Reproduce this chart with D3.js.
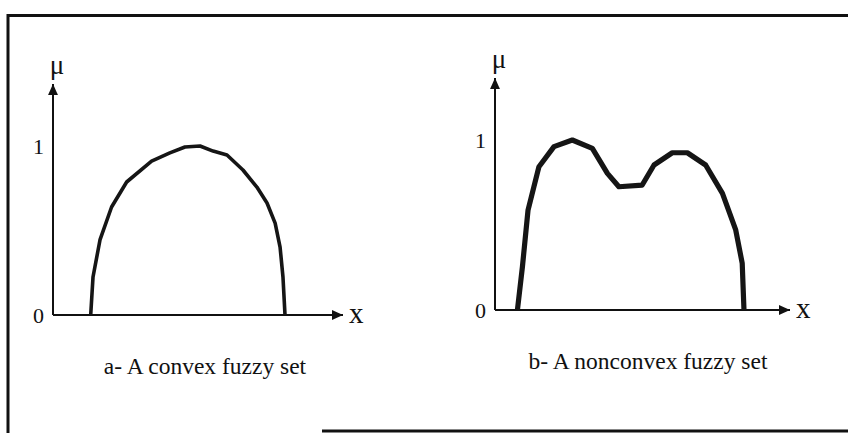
<!DOCTYPE html>
<html>
<head>
<meta charset="utf-8">
<script src="https://cdn.jsdelivr.net/npm/d3@7"></script>
<style>
  html, body { margin: 0; padding: 0; background: #fff; }
  svg { display: block; }
</style>
</head>
<body>
<svg id="chart" width="848" height="433"></svg>
<script>
// Membership functions (x in arbitrary units 0–10, mu in [0, 1])
const convexX  = [1.30, 1.38, 1.62, 2.02, 2.54, 3.40, 4.03, 4.55, 5.07, 5.52, 6.00, 6.55, 7.03, 7.38, 7.66, 7.83, 7.93, 8.00];
const convexMu = [0.00, 0.225, 0.444, 0.639, 0.787, 0.911, 0.959, 0.994, 1.00, 0.970, 0.947, 0.858, 0.757, 0.663, 0.544, 0.402, 0.225, 0.00];

const nonconvexX  = [0.76, 0.93, 1.12, 1.49, 2.00, 2.62, 3.30, 3.81, 4.20, 4.99, 5.39, 6.01, 6.52, 7.14, 7.71, 8.16, 8.38, 8.44];
const nonconvexMu = [0.00, 0.255, 0.588, 0.843, 0.961, 1.00, 0.951, 0.804, 0.725, 0.735, 0.853, 0.925, 0.925, 0.853, 0.686, 0.471, 0.275, 0.00];

const tickValues = [0, 1];
const tickLabels = ["0", "1"];
const captions = ["a- A convex fuzzy set", "b- A nonconvex fuzzy set"];

const FONT = "'Liberation Serif', 'Times New Roman', 'DejaVu Serif', serif";
const svg = d3.select("#chart");

// Page frame
const frame = svg.append("g").attr("stroke", "#111").attr("fill", "none");
frame.append("line").attr("x1", 7).attr("x2", 848).attr("y1", 15.5).attr("y2", 15.5).attr("stroke-width", 3);
frame.append("line").attr("x1", 8).attr("x2", 8).attr("y1", 14).attr("y2", 433).attr("stroke-width", 3);
frame.append("line").attr("x1", 322).attr("x2", 848).attr("y1", 431).attr("y2", 431).attr("stroke-width", 3);

const defs = svg.append("defs");
defs.append("marker")
  .attr("id", "arrow")
  .attr("viewBox", "0 0 10 10")
  .attr("refX", 10).attr("refY", 5)
  .attr("markerUnits", "userSpaceOnUse")
  .attr("markerWidth", 11).attr("markerHeight", 11)
  .attr("orient", "auto")
  .append("path").attr("d", "M0,0.5 L10,5 L0,9.5 Z").attr("fill", "#111");

const panels = [
  { xs: convexX, mus: convexMu, x0: 53, x1: 343, y0: 315, y1: 146, yTop: 84,
    width: 3.6, caption: captions[0], capX: 205, capY: 374 },
  { xs: nonconvexX, mus: nonconvexMu, x0: 495, x1: 790, y0: 310, y1: 140, yTop: 78,
    width: 5.2, caption: captions[1], capX: 648, capY: 369 }
];

panels.forEach(p => {
  const x = d3.scaleLinear().domain([0, 10]).range([p.x0, p.x1]);
  const y = d3.scaleLinear().domain([0, 1]).range([p.y0, p.y1]);
  const g = svg.append("g")
    .attr("font-family", FONT)
    .attr("fill", "#111");

  // Axes with arrowheads
  g.append("line")
    .attr("x1", x(0)).attr("y1", y(0)).attr("x2", x(10)).attr("y2", y(0))
    .attr("stroke", "#111").attr("stroke-width", 2).attr("marker-end", "url(#arrow)");
  g.append("line")
    .attr("x1", x(0)).attr("y1", y(0)).attr("x2", x(0)).attr("y2", p.yTop)
    .attr("stroke", "#111").attr("stroke-width", 2).attr("marker-end", "url(#arrow)");

  // Tick labels on the membership axis
  g.selectAll("text.tick")
    .data(tickValues)
    .join("text")
    .attr("class", "tick")
    .attr("x", x(0) - 9)
    .attr("y", d => y(d))
    .attr("dy", "0.35em")
    .attr("text-anchor", "end")
    .attr("font-size", 22)
    .text((d, i) => tickLabels[i]);

  // Axis names
  g.append("text")
    .attr("x", x(0) + 4).attr("y", p.yTop - 10)
    .attr("text-anchor", "middle")
    .attr("font-size", 27)
    .text("μ");
  g.append("text")
    .attr("x", x(10) + 6).attr("y", y(0) + 8)
    .attr("font-size", 29)
    .text("x");

  // Membership curve
  const pts = p.xs.map((v, i) => [v, p.mus[i]]);
  g.append("path")
    .datum(pts)
    .attr("fill", "none")
    .attr("stroke", "#151515")
    .attr("stroke-width", p.width)
    .attr("stroke-linejoin", "round")
    .attr("d", d3.line().x(d => x(d[0])).y(d => y(d[1])));

  g.append("text")
    .attr("x", p.capX).attr("y", p.capY)
    .attr("text-anchor", "middle")
    .attr("font-size", 23.5)
    .text(p.caption);
});
</script>
</body>
</html>
